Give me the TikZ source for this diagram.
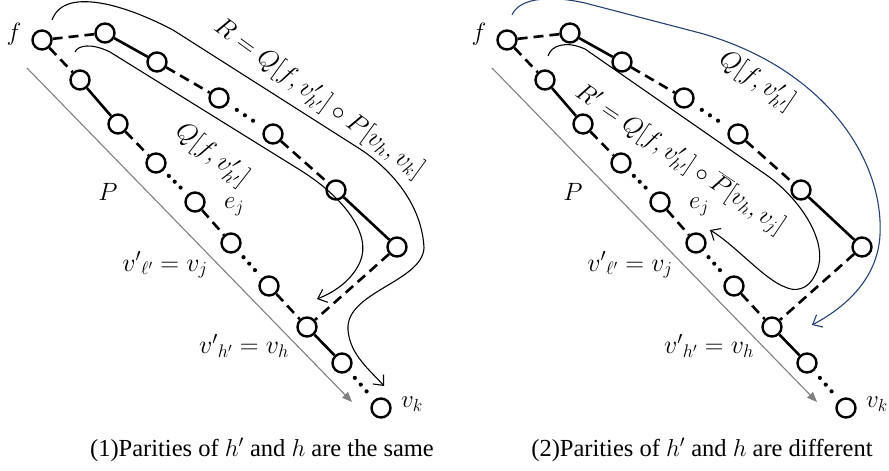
\RequirePackage{fix-cm}
\documentclass[tikz,border=0pt]{standalone}
\usepackage{fontspec}
\setmainfont{Liberation Serif}
\usetikzlibrary{arrows.meta,calc}
\definecolor{navy}{RGB}{38,64,115}
\tikzset{
 vtx/.style={circle,draw,line width=2.4pt,minimum size=19pt,inner sep=0pt,fill=white},
 sedge/.style={line width=2.6pt},
 dedge/.style={line width=2.6pt,dash pattern=on 10pt off 6pt},
 garrow/.style={gray,line width=1.1pt,-{Triangle[length=10pt,width=8pt]}},
 carrow/.style={line width=1.1pt,-{Straight Barb[length=8pt,width=14pt]}},
 lbl/.style={font=\fontsize{26}{30}\selectfont},
 slbl/.style={font=\fontsize{25}{30}\selectfont},
 captxt/.style={font=\fontsize{24.5}{29}\selectfont},
}
\newcommand\dotedge[2]{\foreach \t in {0.33,0.48,0.63}{\fill ($(#1)!\t!(#2)$) circle (2.1pt);}}
\newcommand\chainpanel[1]{%
 \node[vtx] (#1f) at (42,40) {};
 \node[vtx] (#1u1) at (105,33) {};
 \node[vtx] (#1u2) at (157,62) {};
 \node[vtx] (#1u3) at (219,98) {};
 \node[vtx] (#1u4) at (273,134) {};
 \node[vtx] (#1u5) at (336,190) {};
 \node[vtx] (#1u6) at (397,247) {};
 \node[vtx] (#1l1) at (80,80) {};
 \node[vtx] (#1l2) at (118,124) {};
 \node[vtx] (#1l3) at (156,163) {};
 \node[vtx] (#1l4) at (195,202) {};
 \node[vtx] (#1l5) at (231,243) {};
 \node[vtx] (#1l6) at (269,286) {};
 \node[vtx] (#1l7) at (307,327) {};
 \node[vtx] (#1l8) at (342,363) {};
 \node[vtx] (#1l9) at (381,408) {};
 \draw[dedge] (#1f) -- (#1u1);
 \draw[sedge] (#1u1) -- (#1u2);
 \draw[dedge] (#1u2) -- (#1u3);
 \dotedge{#1u3}{#1u4}
 \draw[dedge] (#1u4) -- (#1u5);
 \draw[sedge] (#1u5) -- (#1u6);
 \draw[dedge] (#1u6) -- (#1l7);
 \draw[dedge] (#1f) -- (#1l1);
 \draw[sedge] (#1l1) -- (#1l2);
 \draw[dedge] (#1l2) -- (#1l3);
 \dotedge{#1l3}{#1l4}
 \draw[dedge] (#1l4) -- (#1l5);
 \dotedge{#1l5}{#1l6}
 \draw[dedge] (#1l6) -- (#1l7);
 \draw[sedge] (#1l7) -- (#1l8);
 \dotedge{#1l8}{#1l9}
 \coordinate (#1ps) at (27,68);
 \coordinate (#1pe) at (352,402);
 \draw[garrow] (#1ps) -- (#1pe);
 \node[slbl] (#1tf) at (14,34) {$f$};
 \node[slbl] (#1tp) at (108,192) {$P$};
 \node[slbl] (#1te) at (234,207) {$e_j$};
 \node[lbl] (#1tl) at (165,265) {${v'}_{\ell'}=v_j$};
 \node[lbl] (#1th) at (244,346) {${v'}_{h'}=v_h$};
 \node[slbl] (#1tk) at (412,404) {$v_k$};
}
\begin{document}
\begin{tikzpicture}[x=1pt,y=-1pt]
\useasboundingbox (0,0) rectangle (889,471);
% left panel
\chainpanel{L}
\draw[carrow] (52,20) .. controls (58,4) and (75,-3) .. (110,5)
  .. controls (130,10) and (150,18) .. (173,30) -- (360,149)
  .. controls (392,170) and (422,205) .. (424,248)
  .. controls (422,282) and (345,292) .. (348,330)
  .. controls (350,355) and (370,370) .. (384,386);
\draw[carrow] (75,52) .. controls (78,45) and (92,43) .. (110,52) -- (300,170)
  .. controls (345,198) and (372,235) .. (360,262)
  .. controls (352,280) and (335,292) .. (317,299);
\node[lbl,rotate=-36] (LR) at (319,99) {$R=Q[f,v'_{h'}]\circ P[v_h,v_k]$};
\node[lbl,rotate=-38] (LQ) at (212,155) {$Q[f,v'_{h'}]$};
\node[captxt] (Lcap) at (262,450) {(1)Parities of $h'$ and $h$ are the same};
% right panel
\begin{scope}[xshift=465pt]
\chainpanel{R}
\end{scope}
\draw[carrow,navy] (512,15) .. controls (518,0) and (545,-6) .. (585,3) -- (700,33)
  .. controls (825,68) and (884,160) .. (880,235)
  .. controls (878,275) and (850,305) .. (812,325);
\draw[carrow] (548,56) .. controls (551,46) and (565,40) .. (585,49) -- (765,174)
  .. controls (800,198) and (832,245) .. (815,275)
  .. controls (808,290) and (795,292) .. (785,287)
  .. controls (765,280) and (735,245) .. (710,230);
\node[lbl,rotate=-34] (RQ) at (757,81) {$Q[f,v'_{h'}]$};
\node[slbl,rotate=-34] (RR) at (680,160) {$R'=Q[f,v'_{h'}]\circ\overline{P}[v_h,v_j]$};
\node[captxt] (Rcap) at (702,450) {(2)Parities of $h'$ and $h$ are different};
\end{tikzpicture}
\end{document}
